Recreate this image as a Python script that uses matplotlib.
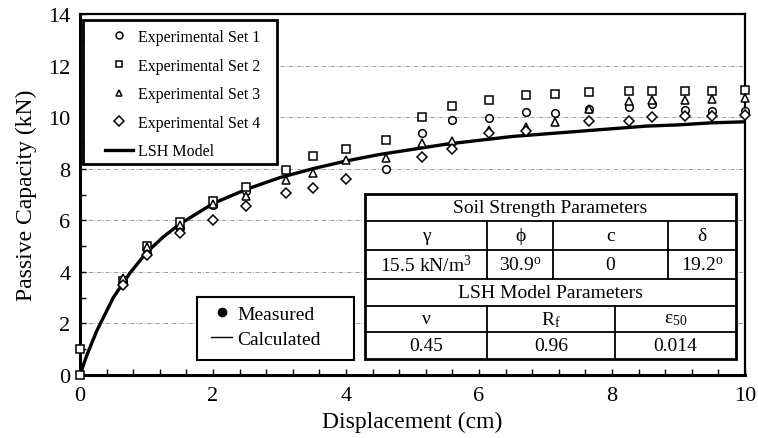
import numpy as np
import matplotlib
matplotlib.use("Agg")
import matplotlib.pyplot as plt
from matplotlib.lines import Line2D
from matplotlib.patches import Rectangle

plt.rcParams['font.family'] = ['Liberation Serif', 'DejaVu Serif']
plt.rcParams['mathtext.fontset'] = 'custom'
plt.rcParams['mathtext.rm'] = 'Liberation Serif'
plt.rcParams['mathtext.it'] = 'Liberation Serif:italic'
plt.rcParams['mathtext.bf'] = 'Liberation Serif:bold'

# measured load-displacement points (cm, kN)
x_set1 = [0.65, 1.0, 1.5, 2.0, 2.5, 4.6, 5.15, 5.6, 6.15, 6.7, 7.15, 7.65, 8.25, 8.6, 9.1, 9.5, 10.0]
p_set1 = [3.6, 4.72, 5.7, 6.6, 7.15, 8.0, 9.38, 9.88, 9.97, 10.2, 10.18, 10.32, 10.39, 10.5, 10.26, 10.22, 10.22]

x_set2 = [0.0, 0.0, 0.65, 1.0, 1.5, 2.0, 2.5, 3.1, 3.5, 4.0, 4.6, 5.15, 5.6, 6.15, 6.7, 7.15, 7.65, 8.25, 8.6, 9.1, 9.5, 10.0]
p_set2 = [0.0, 1.0, 3.65, 5.0, 5.95, 6.73, 7.29, 7.95, 8.5, 8.78, 9.12, 10.02, 10.45, 10.68, 10.85, 10.88, 10.96, 11.0, 11.0, 11.0, 11.02, 11.05]

x_set3 = [0.65, 1.0, 1.5, 2.0, 2.5, 3.1, 3.5, 4.0, 4.6, 5.15, 5.6, 6.15, 6.7, 7.15, 7.65, 8.25, 8.6, 9.1, 9.5, 10.0]
p_set3 = [3.78, 4.95, 5.8, 6.62, 6.95, 7.56, 7.85, 8.34, 8.43, 9.0, 9.07, 9.52, 9.62, 9.82, 10.32, 10.63, 10.68, 10.66, 10.7, 10.74]

x_set4 = [0.65, 1.0, 1.5, 2.0, 2.5, 3.1, 3.5, 4.0, 5.15, 5.6, 6.15, 6.7, 7.65, 8.25, 8.6, 9.1, 9.5, 10.0]
p_set4 = [3.5, 4.65, 5.49, 6.0, 6.55, 7.06, 7.27, 7.6, 8.47, 8.78, 9.38, 9.45, 9.84, 9.86, 10.0, 10.03, 10.05, 10.1]

# LSH model curve
x_lsh = [0, 0.1, 0.25, 0.5, 0.75, 1.0, 1.25, 1.5, 2.0, 2.5, 3.0, 3.5, 4.0, 4.5, 5.0,
         5.5, 6.0, 6.5, 7.0, 7.5, 8.0, 8.5, 9.0, 9.5, 10.0]
p_lsh = [0, 0.75, 1.7, 3.0, 3.95, 4.75, 5.35, 5.85, 6.65, 7.2, 7.65, 8.0, 8.3, 8.55, 8.75,
         8.95, 9.1, 9.25, 9.35, 9.45, 9.55, 9.65, 9.7, 9.78, 9.82]

set_labels = ['Experimental Set 1', 'Experimental Set 2', 'Experimental Set 3', 'Experimental Set 4']
set_markers = ['o', 's', '^', 'D']

soil_head = ['γ', 'ϕ', 'c', 'δ']
soil_vals = ['15.5 kN/m$^3$', '30.9$^{\\mathrm{o}}$', '0', '19.2$^{\\mathrm{o}}$']
lsh_head = ['ν', 'R$_{\\mathrm{f}}$', 'ε$_{\\mathrm{50}}$']
lsh_vals = ['0.45', '0.96', '0.014']

W, H = 758, 439
AX_L, AX_R, AX_T, AX_B = 80, 745, 15, 376

fig = plt.figure(figsize=(W / 100, H / 100), dpi=100)
ax = fig.add_axes([AX_L / W, 1 - AX_B / H, (AX_R - AX_L) / W, (AX_B - AX_T) / H])


def axc(px, py):
    # pixel position -> axes fraction
    return (px - AX_L) / (AX_R - AX_L), (AX_B - py) / (AX_B - AX_T)


ax.set_xlim(0, 10)
ax.set_ylim(0, 14)
for yg in range(2, 14, 2):
    ax.axhline(yg, color='0.55', lw=0.6, ls=(0, (5, 2, 1, 2)), zorder=0.5)

ax.plot(x_lsh, p_lsh, color='black', lw=2.4, zorder=3, solid_capstyle='butt')
msize = [5.5, 5.5, 5.5, 4.6]
for xs, ps, m, ms in zip([x_set1, x_set2, x_set3, x_set4], [p_set1, p_set2, p_set3, p_set4],
                         set_markers, msize):
    ax.plot(xs, ps, ls='none', marker=m, ms=ms, mfc='white', mec='black', mew=1.1,
            zorder=4, clip_on=False)

ax.set_xticks(np.arange(0, 11, 2))
ax.set_yticks(np.arange(0, 15, 2))
ax.set_xticks(np.arange(0, 10.01, 0.4), minor=True)
ax.set_yticks(np.arange(0, 15, 1), minor=True)
ax.tick_params(which='both', direction='in', length=4, width=1, top=False, right=False)
ax.tick_params(axis='x', labelsize=16, pad=8)
ax.tick_params(axis='y', labelsize=16, pad=7)
for s in ['left', 'bottom']:
    ax.spines[s].set_linewidth(2.2)
for s in ['top', 'right']:
    ax.spines[s].set_linewidth(1.6)

ax.set_xlabel('Displacement (cm)', fontsize=17)
ax.set_ylabel('Passive Capacity (kN)', fontsize=17)
ax.xaxis.set_label_coords(0.5, axc(0, 412)[1])
ax.yaxis.set_label_coords(axc(37, 0)[0], 0.5)

# series legend
x0, y0 = axc(83, 165)
x1, y1 = axc(277, 21)
ax.add_patch(Rectangle((x0, y0), x1 - x0, y1 - y0, transform=ax.transAxes,
                       facecolor='white', edgecolor='black', lw=2, zorder=5))
handles = [Line2D([], [], ls='none', marker=m, ms=5, mfc='white', mec='black', mew=1.1)
           for m in set_markers]
handles.append(Line2D([], [], color='black', lw=2.4))
leg1 = ax.legend(handles, set_labels + ['LSH Model'], loc='upper left',
                 bbox_to_anchor=axc(105, 30), frameon=False, fontsize=11.5,
                 handlelength=1.75, handletextpad=0.3, labelspacing=0.79, borderpad=0,
                 borderaxespad=0)
leg1.set_zorder(6)
ax.add_artist(leg1)

# measured / calculated key
x0, y0 = axc(197, 361)
x1, y1 = axc(354, 298)
ax.add_patch(Rectangle((x0, y0), x1 - x0, y1 - y0, transform=ax.transAxes,
                       facecolor='white', edgecolor='black', lw=1.5, zorder=5))
h2 = [Line2D([], [], ls='none', marker='o', ms=6, color='black'),
      Line2D([], [], color='black', lw=1)]
leg2 = ax.legend(h2, ['Measured', 'Calculated'], loc='upper left',
                 bbox_to_anchor=axc(211, 306), frameon=False, fontsize=14,
                 handlelength=1.1, handletextpad=0.25, labelspacing=0.38, borderpad=0,
                 borderaxespad=0)
leg2.set_zorder(6)

# parameter table
TL, TR, TT, TB = 365, 736, 195, 360
tax = fig.add_axes([TL / W, 1 - TB / H, (TR - TL) / W, (TB - TT) / H])
tax.set_xlim(TL, TR)
tax.set_ylim(TB, TT)
tax.axis('off')
tax.add_patch(Rectangle((TL, TT), TR - TL, TB - TT, facecolor='white', edgecolor='black',
                        lw=2, clip_on=False))
rows = [195, 222, 251, 280, 307, 333, 360]
for r in rows[1:-1]:
    tax.plot([TL, TR], [r, r], color='black', lw=1.3)
cols_top = [TL, 487, 553, 668, TR]
cols_bot = [TL, 487, 615, TR]
for c in cols_top[1:-1]:
    tax.plot([c, c], [rows[1], rows[3]], color='black', lw=1.3)
for c in cols_bot[1:-1]:
    tax.plot([c, c], [rows[4], rows[6]], color='black', lw=1.3)

fs = 14
tax.text((TL + TR) / 2, (rows[0] + rows[1]) / 2, 'Soil Strength Parameters', fontsize=fs,
         ha='center', va='center')
tax.text((TL + TR) / 2, (rows[3] + rows[4]) / 2, 'LSH Model Parameters', fontsize=fs,
         ha='center', va='center')
for i in range(4):
    cx = (cols_top[i] + cols_top[i + 1]) / 2
    tax.text(cx, (rows[1] + rows[2]) / 2, soil_head[i], fontsize=fs, ha='center', va='center')
    tax.text(cx, (rows[2] + rows[3]) / 2, soil_vals[i], fontsize=fs, ha='center', va='center')
for i in range(3):
    cx = (cols_bot[i] + cols_bot[i + 1]) / 2
    tax.text(cx, (rows[4] + rows[5]) / 2, lsh_head[i], fontsize=fs, ha='center', va='center')
    tax.text(cx, (rows[5] + rows[6]) / 2, lsh_vals[i], fontsize=fs, ha='center', va='center')

fig.savefig('out.png', dpi=100)
